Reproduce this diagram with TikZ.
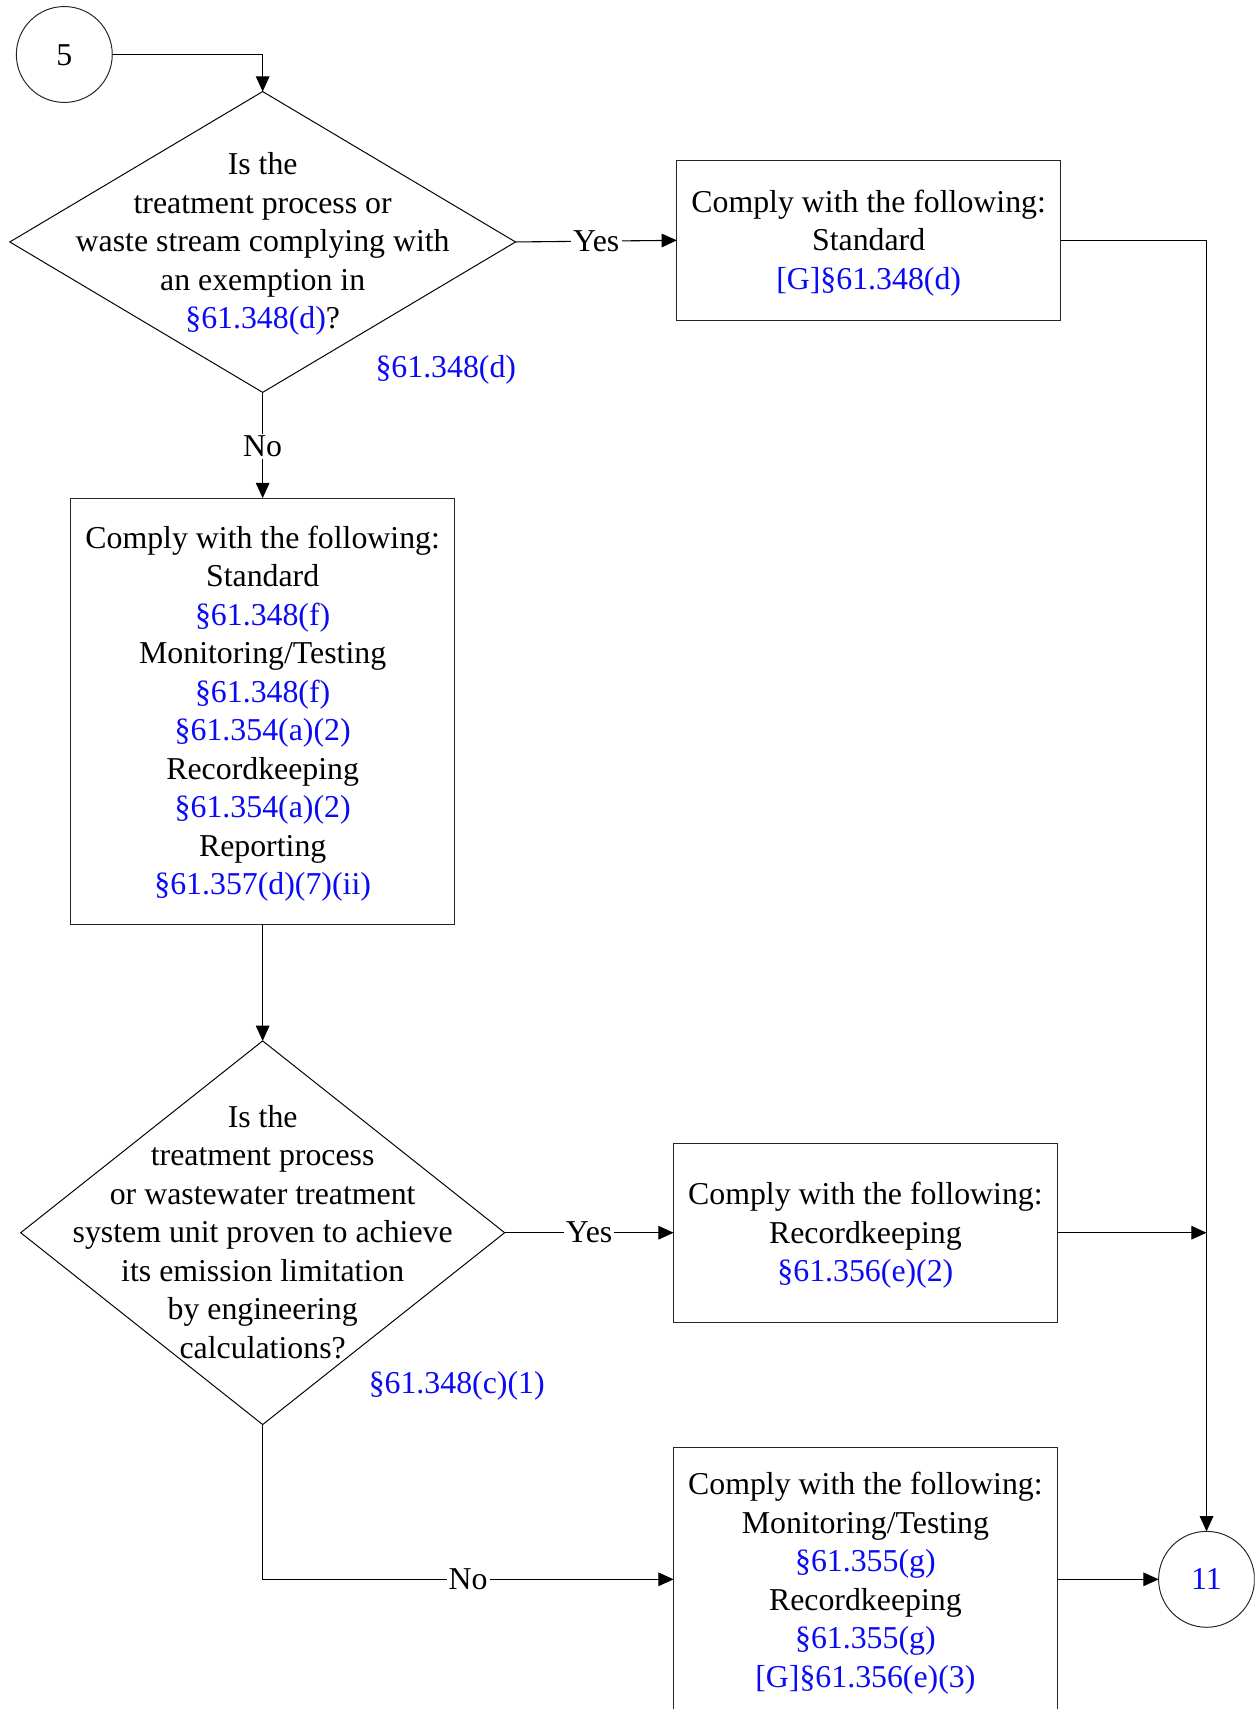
\documentclass[tikz,border=0pt]{standalone}
\usepackage{fontspec}
\setmainfont{Liberation Serif}
\usetikzlibrary{shapes.geometric,arrows.meta}
\definecolor{refblue}{RGB}{10,10,245}
\newcommand\boxlines[2][2.5pt]{\raisebox{-#1}[\height][\depth]{\begin{tabular}{@{}c@{}}#2\end{tabular}}}
\tikzset{
  every node/.style={font=\fontsize{29.2}{35.3}\selectfont, outer sep=0pt},
  box/.style={draw=black!85, line width=1pt, rectangle, minimum width=352pt, inner sep=0pt},
  dia/.style={draw=black, line width=0.9pt, diamond, inner sep=0pt},
  conn/.style={draw=black!85, line width=0.9pt, shape=circle, minimum size=88pt, inner sep=0pt},
  txt/.style={inner sep=0pt},
  lbl/.style={fill=white, inner sep=2pt},
  ref/.style={text=refblue},
  arr/.style={line width=1pt, -{Triangle[length=14pt,width=12.5pt]}}
}
\begin{document}
\begin{tikzpicture}[x=1pt,y=-1pt]
\useasboundingbox (0,0) rectangle (1151,1568);
\clip (0,0) rectangle (1151,1568);
\fill[white] (0,0) rectangle (1151,1568);

% connectors circles
\node[conn] (c5) at (59,50) {\boxlines[3pt]{5}};
\node[conn, text=refblue] (c11) at (1107,1449) {\boxlines[2.5pt]{11}};

% decision 1
\node[dia, minimum width=464pt, minimum height=276pt] (d1) at (241,222) {};
\node[txt] (t1) at (241,221.5) {\boxlines{Is the\\treatment process or\\waste stream complying with\\an exemption in\\{\color{refblue}§61.348(d)}?}};
\node[ref] (r1) at (409,339.5) {§61.348(d)};

% box 1
\node[box, minimum height=147pt] (b1) at (797,220.5) {\boxlines{Comply with the following:\\Standard\\{\color{refblue}[G]§61.348(d)}}};

% box 2
\node[box, minimum height=391pt] (b2) at (241,652.5) {\boxlines{Comply with the following:\\Standard\\{\color{refblue}§61.348(f)}\\Monitoring/Testing\\{\color{refblue}§61.348(f)}\\{\color{refblue}§61.354(a)(2)}\\Recordkeeping\\{\color{refblue}§61.354(a)(2)}\\Reporting\\{\color{refblue}§61.357(d)(7)(ii)}}};

% decision 2
\node[dia, minimum width=444pt, minimum height=352pt] (d2) at (241,1131) {};
\node[txt] (t2) at (241,1130.5) {\boxlines[2.5pt]{Is the\\treatment process\\or wastewater treatment\\system unit proven to achieve\\its emission limitation\\by engineering\\calculations?}};
\node[ref] (r2) at (419,1271.5) {§61.348(c)(1)};

% box 3
\node[box, minimum height=164pt] (b3) at (794,1131) {\boxlines{Comply with the following:\\Recordkeeping\\{\color{refblue}§61.356(e)(2)}}};

% box 4
\node[box, minimum height=242pt] (b4) at (794,1449) {\boxlines[3.5pt]{Comply with the following:\\Monitoring/Testing\\{\color{refblue}§61.355(g)}\\Recordkeeping\\{\color{refblue}§61.355(g)}\\{\color{refblue}[G]§61.356(e)(3)}}};

\coordinate (j) at (1107,1131);

% connectors
\draw[arr] (c5.east) -| (d1.north);
\draw[arr] (d1.east) -- node[lbl] {Yes} (b1.west);
\draw[arr] (b1.east) -| (c11.north);
\draw[arr] (d1.south) -- node[lbl, yshift=-1pt] {No} (b2.north);
\draw[arr] (b2.south) -- (d2.north);
\draw[arr] (d2.east) -- node[lbl] {Yes} (b3.west);
\draw[arr] (b3.east) -- (j);
\draw[arr] (d2.south) |- node[lbl, pos=0.75] {No} (b4.west);
\draw[arr] (b4.east) -- (c11.west);
\end{tikzpicture}
\end{document}
